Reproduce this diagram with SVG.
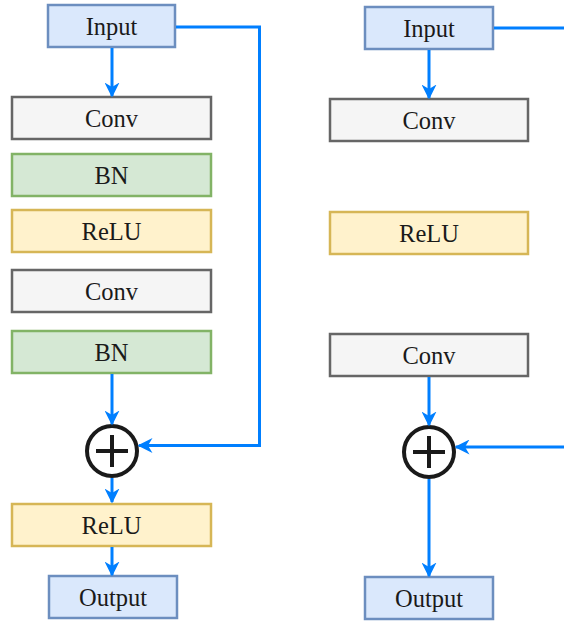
<svg xmlns="http://www.w3.org/2000/svg" width="564" height="621" viewBox="0 0 564 621">
  <style>
    .box { stroke-width: 2.5; }
    .io { fill: #dae8fc; stroke: #6c8ebf; }
    .conv { fill: #f5f5f5; stroke: #666666; }
    .bn { fill: #d5e8d4; stroke: #82b366; }
    .relu { fill: #fff2cc; stroke: #d6b656; }
    .lbl { font-family: "Liberation Serif", "Times New Roman", serif; font-size: 24.5px; fill: #1a1a1a; text-anchor: middle; dominant-baseline: central; }
    .edge { fill: none; stroke: #007fff; stroke-width: 3; }
    .sum circle { fill: #ffffff; stroke: #1a1a1a; stroke-width: 4; }
    .sum path { stroke: #1a1a1a; stroke-width: 4; fill: none; }
  </style>
  <defs>
    <marker id="arrow" viewBox="0 0 10 10" refX="9" refY="5" markerWidth="5" markerHeight="5" orient="auto" markerUnits="strokeWidth">
      <path d="M0,0 L10,5 L0,10 L3,5 Z" fill="#007fff"/>
    </marker>
  </defs>

  <!-- left block: residual block with BN -->
  <g id="l-input"><rect class="box io" x="48" y="5" width="127" height="42"/><text class="lbl" x="111.5" y="26">Input</text></g>
  <g id="l-conv1"><rect class="box conv" x="12" y="97" width="199" height="42"/><text class="lbl" x="111.5" y="118">Conv</text></g>
  <g id="l-bn1"><rect class="box bn" x="12" y="154" width="199" height="42"/><text class="lbl" x="111.5" y="175">BN</text></g>
  <g id="l-relu1"><rect class="box relu" x="12" y="210" width="199" height="42"/><text class="lbl" x="111.5" y="231">ReLU</text></g>
  <g id="l-conv2"><rect class="box conv" x="12" y="270" width="199" height="42"/><text class="lbl" x="111.5" y="291">Conv</text></g>
  <g id="l-bn2"><rect class="box bn" x="12" y="331" width="199" height="42"/><text class="lbl" x="111.5" y="352">BN</text></g>
  <g id="l-sum" class="sum"><circle cx="112" cy="451" r="25"/><path d="M96,451 H128 M112,435 V467"/></g>
  <g id="l-relu2"><rect class="box relu" x="12" y="504" width="199" height="42"/><text class="lbl" x="111.5" y="525">ReLU</text></g>
  <g id="l-output"><rect class="box io" x="49" y="576" width="128" height="42"/><text class="lbl" x="113" y="597">Output</text></g>

  <!-- right block: plain residual block -->
  <g id="r-input"><rect class="box io" x="365" y="7" width="128" height="42"/><text class="lbl" x="429" y="28">Input</text></g>
  <g id="r-conv1"><rect class="box conv" x="330" y="99" width="198" height="42"/><text class="lbl" x="429" y="120">Conv</text></g>
  <g id="r-relu"><rect class="box relu" x="330" y="212" width="198" height="42"/><text class="lbl" x="429" y="233">ReLU</text></g>
  <g id="r-conv2"><rect class="box conv" x="330" y="334" width="198" height="42"/><text class="lbl" x="429" y="355">Conv</text></g>
  <g id="r-sum" class="sum"><circle cx="429" cy="452" r="25"/><path d="M413,452 H445 M429,436 V468"/></g>
  <g id="r-output"><rect class="box io" x="365" y="577" width="128" height="42"/><text class="lbl" x="429" y="598">Output</text></g>

  <g id="connectors">
    <path class="edge" marker-end="url(#arrow)" d="M112,48 V96"/>
    <path class="edge" marker-end="url(#arrow)" d="M112,374 V424"/>
    <path class="edge" marker-end="url(#arrow)" d="M176,27 H259.5 V445.5 H139"/>
    <path class="edge" marker-end="url(#arrow)" d="M112,478 V502"/>
    <path class="edge" marker-end="url(#arrow)" d="M112,547 V575"/>

    <path class="edge" marker-end="url(#arrow)" d="M429,50 V98"/>
    <path class="edge" d="M494,28 H564"/>
    <path class="edge" marker-end="url(#arrow)" d="M429,377 V425"/>
    <path class="edge" marker-end="url(#arrow)" d="M564,447 H456"/>
    <path class="edge" marker-end="url(#arrow)" d="M429,479 V576"/>
  </g>
</svg>
